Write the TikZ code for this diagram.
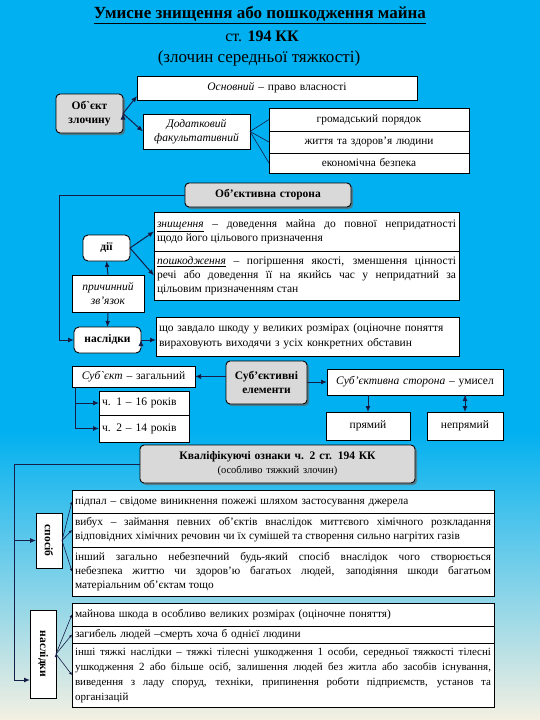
\documentclass[tikz,border=0pt]{standalone}
\usepackage{fontspec}
\setmainfont{Liberation Serif}
\usetikzlibrary{positioning,shadows,arrows.meta}

\definecolor{bgblue}{RGB}{0,176,240}
\definecolor{bgmid}{RGB}{150,212,236}
\definecolor{bgsand}{RGB}{244,240,226}
\definecolor{linkc}{RGB}{22,30,72}
\definecolor{keyfill}{RGB}{217,217,217}

\begin{document}
\begin{tikzpicture}[x=1pt, y=-1pt,
    box/.style={draw, line width=.7pt, fill=white, anchor=north west,
      outer sep=0pt, inner xsep=3pt, inner ysep=1pt,
      font=\fontsize{11.5}{14}\selectfont},
    small/.style={font=\fontsize{11.3}{14}\selectfont},
    strong/.style={font=\fontsize{11.5}{14}\selectfont\bfseries},
    keybox/.style={box, fill=keyfill, rounded corners=4pt, line width=.9pt,
      drop shadow={shadow xshift=2pt, shadow yshift=-2pt, fill=black!60, opacity=.7}},
    roundbox/.style={box, rounded corners=5pt, line width=.9pt},
    link/.style={draw=linkc, line width=1pt, -{Latex[length=6pt,width=5pt]}},
    fan/.style={draw=linkc, line width=.6pt},
  ]
  % background
  \fill[bgblue] (0,0) rectangle (540,431);
  \shade[top color=bgblue, middle color=bgmid, bottom color=bgsand] (0,430) rectangle (540,720);
  \useasboundingbox (0,0) rectangle (540,720);

  % title
  \node[font=\fontsize{17}{20}\selectfont\bfseries] (title) at (260,15) {\underline{Умисне знищення або пошкодження майна}};
  \node[font=\fontsize{16}{19}\selectfont] (art) at (262,36) {ст. \textbf{194 КК}};
  \node[font=\fontsize{17}{20}\selectfont] (grav) at (259,58) {(злочин середньої тяжкості)};

  % object
  \node[keybox, strong, text width=61pt, minimum height=39pt, align=center] (obj) at (56,94) {Об\textasciigrave єкт\\злочину};
  \node[box, text width=274pt, minimum height=24pt, align=center] (obj_main) at (137,76) {\textit{Основний} – право власності};
  \node[box, text width=101pt, minimum height=35pt, align=center] (obj_add) at (143,114) {\textit{Додатковий}\\\textit{факультативний}};
  \node[box, small, line width=1pt, text width=194pt, minimum height=23pt, align=center] (add_1) at (269,108) {громадський порядок};
  \node[box, small, line width=1pt, text width=194pt, minimum height=22pt, align=center] (add_2) [below=0pt of add_1] {життя та здоров’я людини};
  \node[box, small, line width=1pt, text width=194pt, minimum height=20pt, align=center] (add_3) [below=0pt of add_2] {економічна безпека};
  \path[link] (obj.east) edge ([yshift=4pt]obj_main.south west)
                         edge (obj_add.west);
  \path[fan] (obj_add.east) edge (add_1.west) edge (add_2.west) edge (add_3.west);

  % objective side
  \node[keybox, strong, text width=160pt, minimum height=24pt, align=center] (obj_side) at (185,183) {Об’єктивна сторона};
  \node[box, text width=299pt, minimum height=39pt, align=justify] (destr) at (154,212)
    {\underline{\textit{знищення}} – доведення майна до повної непридатності\linebreak щодо його цільового призначення};
  \node[box, text width=299pt, minimum height=49pt, align=justify] (damg) [below=0pt of destr]
    {\underline{\textit{пошкодження}} – погіршення якості, зменшення цінності\linebreak речі або доведення її на якийсь час у непридатний за\linebreak цільовим призначенням стан};
  \node[roundbox, strong, minimum width=47pt, minimum height=26pt] (acts) at (83,235) {дії};
  \node[box, text width=66pt, minimum height=37pt, align=center] (cause) at (72,275) {\textit{причинний}\\\textit{зв’язок}};
  \node[roundbox, strong, minimum width=67pt, minimum height=26pt] (conseq) at (74,327) {наслідки};
  \node[box, text width=297pt, minimum height=39pt, align=left, font=\fontsize{11.5}{15}\selectfont] (harm) at (156,317)
    {що завдало шкоду у великих розмірах (оціночне поняття\\вираховують виходячи з усіх конкретних обставин};
  \coordinate (os_turn) at (59,195);
  \draw[link] (obj_side.west) -- (os_turn) |- (conseq.west);
  \path[link] (acts.east) edge (destr.west) edge (damg.west)
    (cause.north) edge (acts.south)
    (cause.south) edge (conseq.north)
    (conseq.east) edge (conseq.east -| harm.west);

  % subjective side
  \node[keybox, strong, text width=75pt, minimum height=43pt, align=center] (subj) at (226,361) {Суб’єктивні\\елементи};
  \node[box, text width=117pt, minimum height=21pt, align=center] (subject) at (72,366) {\textit{Суб\textasciigrave єкт} – загальний};
  \node[box, text width=84pt, minimum height=24pt] (age_1) at (99,391) {ч. 1 – 16 років};
  \node[box, text width=84pt, minimum height=27pt] (age_2) [below=0pt of age_1] {ч. 2 – 14 років};
  \node[box, text width=170pt, minimum height=26pt, align=center] (subj_side) at (327,369) {\textit{Суб’єктивна сторона} – умисел};
  \node[box, text width=78pt, minimum height=28pt, align=center] (direct) at (326,412) {прямий};
  \node[box, text width=70pt, minimum height=28pt, align=center] (indirect) at (427,412) {непрямий};
  \coordinate (s_turn) at ([xshift=3pt]subject.south west);
  \path[link] (subj.west |- subject.east) edge (subject.east)
    (subj.east |- subj_side.west) edge (subj_side.west)
    (direct.north |- subj_side.south) edge (direct.north)
    (indirect.north |- subj_side.south) edge (indirect.north);
  \draw[link] (s_turn) |- (age_1.west);
  \draw[link] (s_turn) |- (age_2.west);

  % qualifying signs
  \node[keybox, text width=269pt, minimum height=38pt, align=center, font=\fontsize{11.5}{14}\selectfont] (qual) at (140,445)
    {\textbf{Кваліфікуючі ознаки ч. 2 ст. 194 КК}\\{\fontsize{10.5}{13}\selectfont(особливо тяжкий злочин)}};
  \node[box, strong, minimum width=26pt, minimum height=55pt, inner sep=0pt] (way) at (36,513) {\rotatebox{-90}{спосіб}};
  \node[box, strong, minimum width=26pt, minimum height=88pt, inner sep=0pt] (res) at (30,610) {\rotatebox{-90}{наслідки}};
  \node[box, small, text width=416pt, minimum height=23pt, align=left] (way_1) at (72,490)
    {підпал – свідоме виникнення пожежі шляхом застосування джерела};
  \node[box, small, text width=416pt, minimum height=34pt, align=justify] (way_2) [below=0pt of way_1]
    {вибух – займання певних об’єктів внаслідок миттєвого хімічного розкладання\linebreak відповідних хімічних речовин чи їх сумішей та створення сильно нагрітих газів};
  \node[box, small, text width=416pt, minimum height=49pt, align=justify] (way_3) [below=0pt of way_2]
    {інший загально небезпечний будь-який спосіб внаслідок чого створюється\linebreak небезпека життю чи здоров’ю багатьох людей, заподіяння шкоди багатьом\linebreak матеріальним об’єктам тощо};
  \node[box, small, text width=416pt, minimum height=23pt, align=left] (res_1) at (72,603)
    {майнова шкода в особливо великих розмірах (оціночне поняття)};
  \node[box, small, text width=416pt, minimum height=17pt, align=left] (res_2) [below=0pt of res_1]
    {загибель людей –смерть хоча б однієї людини};
  \node[box, small, text width=416pt, minimum height=64pt, align=justify, font=\fontsize{11}{15}\selectfont] (res_3) [below=0pt of res_2]
    {інші тяжкі наслідки – тяжкі тілесні ушкодження 1 особи, середньої тяжкості тілесні\linebreak ушкодження 2 або більше осіб, залишення людей без житла або засобів існування,\linebreak виведення з ладу споруд, техніки, припинення роботи підприємств, установ та\linebreak організацій};
  \coordinate (q_turn) at (14,464);
  \draw[link] (qual.west) -- (q_turn) |- ([yshift=-26pt]res.west);
  \draw[link] (q_turn |- way.west) -- (way.west);
  \path[fan, -{Latex[length=3pt,width=3pt]}] (way.east) edge (way_1.west) edge (way_2.west) edge (way_3.west)
    (res.east) edge (res_1.west) edge (res_2.west) edge (res_3.west);
\end{tikzpicture}
\end{document}
